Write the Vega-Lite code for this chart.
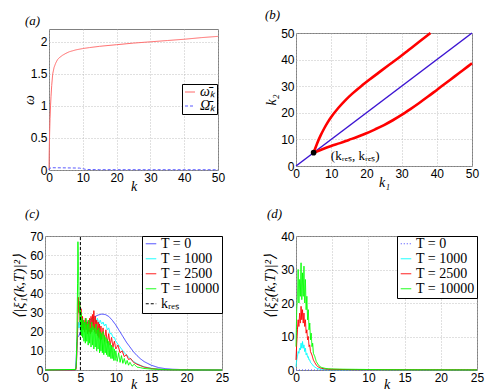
{
"$schema":"https://vega.github.io/schema/vega-lite/v6.json",
"background":"white",
"padding":{"left":10,"top":8,"right":0,"bottom":0},
"columns":2,
"spacing":{"row":66,"column":74},
"center":true,
"bounds":"flush",
"resolve":{"scale":{"color":"independent","strokeDash":"independent","x":"independent","y":"independent"},"legend":{"color":"independent","strokeDash":"independent"}},
"config":{
 "view":{"stroke":"#808080","strokeWidth":1},
 "axis":{"labelFont":"Liberation Sans","labelFontSize":12,"labelColor":"#000","labelPadding":2,"labelFlush":false,"labelOverlap":false,"ticks":false,"domain":false,"grid":true,"gridColor":"#b0b0b0","gridDash":[1,2],"gridWidth":0.8,"titleFont":"Liberation Serif","titleFontStyle":"italic","titleFontWeight":"normal","titleFontSize":14,"titleColor":"#000","titleBaseline":"alphabetic"},
 "legend":{"strokeColor":"#000","fillColor":"white","padding":2,"labelFont":"Liberation Serif","labelFontSize":14,"labelColor":"#000","symbolType":"stroke","symbolSize":110,"symbolStrokeWidth":1,"rowPadding":0,"labelOffset":3,"cornerRadius":0},
 "title":{"font":"Liberation Serif","fontStyle":"italic","fontWeight":"normal","fontSize":13,"color":"#000","baseline":"alphabetic","align":"left"}
},
"datasets":{
 "aw":[{"k":0,"v":0},{"k":0.05,"v":0.25},{"k":0.1,"v":0.4},{"k":0.2,"v":0.6},{"k":0.3,"v":0.8},{"k":0.45,"v":1},{"k":0.6,"v":1.15},{"k":0.8,"v":1.32},{"k":1.1,"v":1.5},{"k":1.5,"v":1.6},{"k":2,"v":1.67},{"k":2.5,"v":1.72},{"k":3,"v":1.75},{"k":4,"v":1.79},{"k":5,"v":1.82},{"k":6,"v":1.845},{"k":7,"v":1.86},{"k":8,"v":1.875},{"k":10,"v":1.895},{"k":12,"v":1.91},{"k":15,"v":1.93},{"k":20,"v":1.955},{"k":25,"v":1.98},{"k":30,"v":2},{"k":35,"v":2.02},{"k":40,"v":2.04},{"k":45,"v":2.065},{"k":50,"v":2.085}],
 "aO":[{"k":0,"v":0},{"k":0.3,"v":0.03},{"k":1,"v":0.035},{"k":5,"v":0.033},{"k":9,"v":0.03},{"k":10,"v":0.02},{"k":11,"v":0.008},{"k":15,"v":0.005},{"k":50,"v":0.004}],
 "bdiag":[{"k1":0,"k2":0},{"k1":50,"k2":50}],
 "bcurve":[
  {"k1":5,"k2":5,"s":"upper"},{"k1":6,"k2":8.5,"s":"upper"},{"k1":7,"k2":11.5,"s":"upper"},{"k1":8,"k2":14.1,"s":"upper"},{"k1":9,"k2":16.4,"s":"upper"},{"k1":10,"k2":18.4,"s":"upper"},{"k1":12,"k2":21.8,"s":"upper"},{"k1":14,"k2":24.7,"s":"upper"},{"k1":16,"k2":27.2,"s":"upper"},{"k1":18.5,"k2":30,"s":"upper"},{"k1":21,"k2":32.6,"s":"upper"},{"k1":23.5,"k2":35.1,"s":"upper"},{"k1":26,"k2":37.6,"s":"upper"},{"k1":29,"k2":40.5,"s":"upper"},{"k1":32,"k2":43.6,"s":"upper"},{"k1":35,"k2":46.7,"s":"upper"},{"k1":38.2,"k2":50,"s":"upper"},
  {"k1":5,"k2":5,"s":"lower"},{"k1":7.5,"k2":6.3,"s":"lower"},{"k1":10,"k2":7.5,"s":"lower"},{"k1":12.5,"k2":8.6,"s":"lower"},{"k1":15,"k2":9.8,"s":"lower"},{"k1":17.5,"k2":11,"s":"lower"},{"k1":20,"k2":12.3,"s":"lower"},{"k1":22.5,"k2":13.8,"s":"lower"},{"k1":25,"k2":15.4,"s":"lower"},{"k1":27.5,"k2":17.2,"s":"lower"},{"k1":30,"k2":19.2,"s":"lower"},{"k1":32.5,"k2":21.4,"s":"lower"},{"k1":35,"k2":23.7,"s":"lower"},{"k1":37.5,"k2":26.1,"s":"lower"},{"k1":40,"k2":28.6,"s":"lower"},{"k1":42.5,"k2":31.1,"s":"lower"},{"k1":45,"k2":33.6,"s":"lower"},{"k1":47.5,"k2":36.1,"s":"lower"},{"k1":50,"k2":38.6,"s":"lower"}],
 "bpt":[{"k1":5,"k2":5}],
 "bnote":[{"k1":9.9,"k2":3.8,"label":"(kᵣₑₛ, kᵣₑₛ)"}],
 "c0":[{"k":0,"v":0},{"k":4.3,"v":0},{"k":4.4,"v":5},{"k":4.5,"v":14},{"k":4.6,"v":17},{"k":4.8,"v":18},{"k":5,"v":20},{"k":5.5,"v":23},{"k":6,"v":25},{"k":6.5,"v":26.5},{"k":7,"v":27.8},{"k":7.5,"v":28.7},{"k":8,"v":29.2},{"k":8.5,"v":29},{"k":9,"v":28},{"k":9.5,"v":26},{"k":10,"v":23.5},{"k":10.5,"v":20.5},{"k":11,"v":17.5},{"k":11.5,"v":14.5},{"k":12,"v":12},{"k":12.5,"v":9.5},{"k":13,"v":7.5},{"k":13.5,"v":5.8},{"k":14,"v":4.4},{"k":15,"v":2.5},{"k":16,"v":1.3},{"k":17,"v":0.7},{"k":18,"v":0.4},{"k":20,"v":0.15},{"k":22,"v":0.05},{"k":25,"v":0}],
 "c1":[{"k":0,"v":0},{"k":4.3,"v":0},{"k":4.4,"v":1},{"k":4.5,"v":10},{"k":4.6,"v":20},{"k":4.7,"v":25},{"k":4.8,"v":22},{"k":5,"v":26},{"k":5.2,"v":22},{"k":5.4,"v":25},{"k":5.6,"v":23},{"k":5.8,"v":26},{"k":6,"v":23},{"k":6.2,"v":26},{"k":6.4,"v":24},{"k":6.6,"v":27},{"k":6.8,"v":24},{"k":7,"v":27},{"k":7.2,"v":25},{"k":7.4,"v":27},{"k":7.6,"v":24},{"k":7.8,"v":26},{"k":8,"v":24},{"k":8.2,"v":25},{"k":8.4,"v":23},{"k":8.6,"v":24},{"k":8.8,"v":21},{"k":9,"v":22},{"k":9.2,"v":19},{"k":9.4,"v":19},{"k":9.6,"v":17},{"k":9.8,"v":17},{"k":10,"v":15},{"k":10.4,"v":13},{"k":10.8,"v":11},{"k":11.2,"v":9},{"k":11.6,"v":7.5},{"k":12,"v":6},{"k":12.5,"v":4.5},{"k":13,"v":3.3},{"k":13.5,"v":2.4},{"k":14,"v":1.7},{"k":15,"v":0.9},{"k":16,"v":0.5},{"k":17,"v":0.25},{"k":18,"v":0.1},{"k":20,"v":0.05},{"k":25,"v":0}],
 "c2":[{"k":0,"v":0},{"k":4.3,"v":0},{"k":4.4,"v":0.5},{"k":4.5,"v":8},{"k":4.6,"v":20},{"k":4.7,"v":38},{"k":4.8,"v":30},{"k":4.9,"v":35},{"k":5,"v":25},{"k":5.1,"v":32},{"k":5.2,"v":22},{"k":5.3,"v":28},{"k":5.4,"v":21},{"k":5.5,"v":26},{"k":5.6,"v":20},{"k":5.7,"v":27},{"k":5.8,"v":21},{"k":5.9,"v":25},{"k":6,"v":19},{"k":6.1,"v":26},{"k":6.2,"v":20},{"k":6.3,"v":27},{"k":6.4,"v":19},{"k":6.5,"v":28},{"k":6.6,"v":20},{"k":6.7,"v":29},{"k":6.8,"v":21},{"k":6.9,"v":31},{"k":7,"v":20},{"k":7.1,"v":28},{"k":7.2,"v":19},{"k":7.3,"v":26},{"k":7.4,"v":18},{"k":7.5,"v":25},{"k":7.6,"v":17},{"k":7.7,"v":24},{"k":7.8,"v":16},{"k":7.9,"v":23},{"k":8,"v":16},{"k":8.2,"v":22},{"k":8.4,"v":15},{"k":8.6,"v":21},{"k":8.8,"v":14},{"k":9,"v":19},{"k":9.2,"v":13},{"k":9.4,"v":17},{"k":9.6,"v":12},{"k":9.8,"v":15},{"k":10,"v":11},{"k":10.3,"v":13},{"k":10.6,"v":9},{"k":10.9,"v":10},{"k":11.2,"v":7},{"k":11.5,"v":8},{"k":11.8,"v":5.5},{"k":12.1,"v":6},{"k":12.5,"v":4},{"k":13,"v":3},{"k":14,"v":1.5},{"k":15,"v":0.8},{"k":16,"v":0.4},{"k":18,"v":0.1},{"k":25,"v":0}],
 "c3":[{"k":0,"v":0},{"k":4.3,"v":0.3},{"k":4.4,"v":2},{"k":4.5,"v":15},{"k":4.6,"v":45},{"k":4.65,"v":67},{"k":4.7,"v":60},{"k":4.75,"v":48},{"k":4.8,"v":40},{"k":4.85,"v":30},{"k":4.9,"v":36},{"k":4.95,"v":25},{"k":5,"v":33},{"k":5.05,"v":20},{"k":5.1,"v":30},{"k":5.15,"v":18},{"k":5.2,"v":27},{"k":5.3,"v":17},{"k":5.4,"v":26},{"k":5.5,"v":15},{"k":5.6,"v":25},{"k":5.7,"v":14},{"k":5.8,"v":27},{"k":5.9,"v":15},{"k":6,"v":24},{"k":6.1,"v":13},{"k":6.2,"v":26},{"k":6.3,"v":14},{"k":6.4,"v":22},{"k":6.5,"v":12},{"k":6.6,"v":25},{"k":6.7,"v":13},{"k":6.8,"v":23},{"k":6.9,"v":11},{"k":7,"v":22},{"k":7.1,"v":12},{"k":7.2,"v":24},{"k":7.3,"v":10},{"k":7.4,"v":21},{"k":7.5,"v":11},{"k":7.6,"v":22},{"k":7.7,"v":9},{"k":7.8,"v":20},{"k":7.9,"v":10},{"k":8,"v":19},{"k":8.1,"v":9},{"k":8.2,"v":20},{"k":8.3,"v":8},{"k":8.4,"v":18},{"k":8.5,"v":9},{"k":8.6,"v":17},{"k":8.7,"v":8},{"k":8.8,"v":16},{"k":8.9,"v":7},{"k":9,"v":15},{"k":9.1,"v":7},{"k":9.2,"v":14},{"k":9.3,"v":6},{"k":9.4,"v":13},{"k":9.5,"v":6},{"k":9.6,"v":12},{"k":9.7,"v":5},{"k":9.8,"v":11},{"k":9.9,"v":5},{"k":10,"v":10},{"k":10.2,"v":4.5},{"k":10.4,"v":9},{"k":10.6,"v":4},{"k":10.8,"v":7.5},{"k":11,"v":3.5},{"k":11.2,"v":6},{"k":11.4,"v":3},{"k":11.6,"v":5},{"k":11.8,"v":2.5},{"k":12,"v":4},{"k":12.3,"v":2},{"k":12.6,"v":3},{"k":13,"v":1.5},{"k":13.5,"v":1.2},{"k":14,"v":0.8},{"k":15,"v":0.5},{"k":16,"v":0.3},{"k":18,"v":0.1},{"k":20,"v":0.05},{"k":25,"v":0}],
 "ckres":[{"k":5,"v":0,"v2":70}],
 "d0":[{"k":0,"v":0},{"k":25,"v":0}],
 "d1":[{"k":0,"v":1},{"k":0.1,"v":3},{"k":0.2,"v":4},{"k":0.3,"v":5.5},{"k":0.4,"v":5},{"k":0.5,"v":6.5},{"k":0.6,"v":6},{"k":0.7,"v":8},{"k":0.8,"v":6.5},{"k":0.9,"v":8.5},{"k":1,"v":6.5},{"k":1.1,"v":7.5},{"k":1.2,"v":5.5},{"k":1.3,"v":6.5},{"k":1.4,"v":4.5},{"k":1.5,"v":5},{"k":1.6,"v":3.8},{"k":1.7,"v":4},{"k":1.8,"v":3},{"k":1.9,"v":3},{"k":2,"v":2.3},{"k":2.2,"v":1.8},{"k":2.4,"v":1.2},{"k":2.6,"v":0.9},{"k":2.8,"v":0.6},{"k":3,"v":0.4},{"k":3.5,"v":0.2},{"k":4,"v":0.1},{"k":25,"v":0.05}],
 "d2":[{"k":0,"v":3},{"k":0.1,"v":8},{"k":0.2,"v":12},{"k":0.3,"v":15},{"k":0.4,"v":13},{"k":0.5,"v":17},{"k":0.6,"v":14},{"k":0.7,"v":19},{"k":0.8,"v":15},{"k":0.9,"v":18},{"k":1,"v":14},{"k":1.1,"v":17},{"k":1.2,"v":13},{"k":1.3,"v":15},{"k":1.4,"v":11},{"k":1.5,"v":12},{"k":1.6,"v":9},{"k":1.7,"v":10},{"k":1.8,"v":7},{"k":1.9,"v":7.5},{"k":2,"v":5.5},{"k":2.2,"v":4.5},{"k":2.4,"v":3},{"k":2.6,"v":2.2},{"k":2.8,"v":1.5},{"k":3,"v":1},{"k":3.5,"v":0.5},{"k":4,"v":0.3},{"k":5,"v":0.2},{"k":8,"v":0.1},{"k":25,"v":0.05}],
 "d3":[{"k":0,"v":7},{"k":0.1,"v":18},{"k":0.2,"v":22},{"k":0.3,"v":30},{"k":0.4,"v":20},{"k":0.5,"v":27},{"k":0.6,"v":22},{"k":0.7,"v":32},{"k":0.8,"v":21},{"k":0.9,"v":29},{"k":1,"v":22},{"k":1.1,"v":31},{"k":1.2,"v":20},{"k":1.3,"v":27},{"k":1.4,"v":18},{"k":1.5,"v":22},{"k":1.6,"v":15},{"k":1.7,"v":18},{"k":1.8,"v":12},{"k":1.9,"v":14},{"k":2,"v":9},{"k":2.1,"v":11},{"k":2.2,"v":7},{"k":2.3,"v":8},{"k":2.4,"v":5},{"k":2.6,"v":4},{"k":2.8,"v":2.5},{"k":3,"v":1.8},{"k":3.2,"v":1.2},{"k":3.5,"v":0.8},{"k":4,"v":0.5},{"k":4.5,"v":0.35},{"k":5,"v":0.3},{"k":6,"v":0.25},{"k":8,"v":0.2},{"k":10,"v":0.15},{"k":12,"v":0.1},{"k":15,"v":0.08},{"k":20,"v":0.05},{"k":25,"v":0.03}]
},
"concat":[
 {
  "width":169,"height":141,
  "title":{"text":"(a)","anchor":"start","frame":"group","dx":-24,"offset":1},
  "encoding":{
   "x":{"field":"k","type":"quantitative","scale":{"domain":[0,50],"nice":false},"axis":{"values":[0,10,20,30,40,50],"title":"k","titleY":20}},
   "y":{"field":"v","type":"quantitative","scale":{"domain":[0,2.2],"nice":false},"axis":{"values":[0,0.5,1,1.5,2],"format":"~g","title":"ω","titleX":-16}}
  },
  "layer":[
   {"data":{"name":"aw"},"mark":{"type":"line","strokeWidth":1},
    "encoding":{
     "color":{"datum":"ω̄ₖ","type":"nominal","scale":{"domain":["ω̄ₖ","Ω̄ₖ"],"range":["#ff6b6b","#5a5aff"]},"legend":{"orient":"none","legendX":133,"legendY":55,"title":null,"labelFontStyle":"italic","labelFontSize":14,"rowPadding":0,"symbolSize":100,"padding":1}},
     "strokeDash":{"datum":"ω̄ₖ","type":"nominal","scale":{"domain":["ω̄ₖ","Ω̄ₖ"],"range":[[1,0],[3,2]]},"legend":{"orient":"none","legendX":133,"legendY":55,"title":null,"labelFontStyle":"italic","labelFontSize":14,"rowPadding":0,"symbolSize":100,"padding":1}}}},
   {"data":{"name":"aO"},"mark":{"type":"line","strokeWidth":1},
    "encoding":{"color":{"datum":"Ω̄ₖ","type":"nominal"},"strokeDash":{"datum":"Ω̄ₖ","type":"nominal"}}}
  ]
 },
 {
  "width":176,"height":133,
  "title":{"text":"(b)","anchor":"start","frame":"group","dx":-31,"offset":5},
  "encoding":{
   "x":{"field":"k1","type":"quantitative","scale":{"domain":[0,50],"nice":false},"axis":{"values":[0,10,20,30,40,50],"title":"k₁","titleY":20}},
   "y":{"field":"k2","type":"quantitative","scale":{"domain":[0,50],"nice":false},"axis":{"values":[0,10,20,30,40,50],"title":"k₂","titleX":-21}}
  },
  "layer":[
   {"data":{"name":"bdiag"},"mark":{"type":"line","color":"#3c14d2","strokeWidth":1.5},"encoding":{}},
   {"data":{"name":"bcurve"},"mark":{"type":"line","color":"#ff0000","strokeWidth":2.6,"interpolate":"monotone"},"encoding":{"detail":{"field":"s","type":"nominal"}}},
   {"data":{"name":"bpt"},"mark":{"type":"point","filled":true,"color":"#000","opacity":1,"size":32},"encoding":{}},
   {"data":{"name":"bnote"},"mark":{"type":"text","align":"left","baseline":"middle","font":"Liberation Serif","fontSize":13,"color":"#000"},"encoding":{"text":{"field":"label","type":"nominal"}}}
  ]
 },
 {
  "width":177,"height":134,
  "title":{"text":"(c)","anchor":"start","frame":"group","dx":-20,"offset":9},
  "encoding":{
   "x":{"field":"k","type":"quantitative","scale":{"domain":[0,25],"nice":false},"axis":{"values":[0,5,10,15,20,25],"title":"k","titleY":18}},
   "y":{"field":"v","type":"quantitative","scale":{"domain":[0,70],"nice":false},"axis":{"values":[0,10,20,30,40,50,60,70],"title":"⟨|ξ̂₁(k,T)|²⟩","titleX":-22,"titleY":50,"titleFontSize":15}}
  },
  "layer":[
   {"data":{"name":"c0"},"mark":{"type":"line","strokeWidth":1},
    "encoding":{
     "color":{"datum":"T = 0","type":"nominal","scale":{"domain":["T = 0","T = 1000","T = 2500","T = 10000","kᵣₑₛ"],"range":["#4040ff","#00ffff","#ff0000","#00ff00","#000000"]},"legend":{"orient":"top-right","offset":0,"title":null,"clipHeight":11.5}},
     "strokeDash":{"datum":"T = 0","type":"nominal","scale":{"domain":["T = 0","T = 1000","T = 2500","T = 10000","kᵣₑₛ"],"range":[[1,0],[1,0],[1,0],[1,0],[3,2]]},"legend":{"orient":"top-right","offset":0,"title":null,"clipHeight":11.5}}}},
   {"data":{"name":"c1"},"mark":{"type":"line","strokeWidth":1},"encoding":{"color":{"datum":"T = 1000","type":"nominal"},"strokeDash":{"datum":"T = 1000","type":"nominal"}}},
   {"data":{"name":"c2"},"mark":{"type":"line","strokeWidth":1},"encoding":{"color":{"datum":"T = 2500","type":"nominal"},"strokeDash":{"datum":"T = 2500","type":"nominal"}}},
   {"data":{"name":"c3"},"mark":{"type":"line","strokeWidth":1},"encoding":{"color":{"datum":"T = 10000","type":"nominal"},"strokeDash":{"datum":"T = 10000","type":"nominal"}}},
   {"data":{"name":"ckres"},"mark":{"type":"rule","strokeWidth":1},"encoding":{"y2":{"field":"v2"},"color":{"datum":"kᵣₑₛ","type":"nominal"},"strokeDash":{"datum":"kᵣₑₛ","type":"nominal"}}}
  ]
 },
 {
  "width":181,"height":134,
  "title":{"text":"(d)","anchor":"start","frame":"group","dx":-29,"offset":9},
  "encoding":{
   "x":{"field":"k","type":"quantitative","scale":{"domain":[0,25],"nice":false},"axis":{"values":[0,5,10,15,20,25],"title":"k","titleY":18}},
   "y":{"field":"v","type":"quantitative","scale":{"domain":[0,40],"nice":false},"axis":{"values":[0,10,20,30,40],"title":"⟨|ξ̂₂(k,T)|²⟩","titleX":-22,"titleY":50,"titleFontSize":15}}
  },
  "layer":[
   {"data":{"name":"d0"},"mark":{"type":"line","strokeWidth":1},
    "encoding":{
     "color":{"datum":"T = 0","type":"nominal","scale":{"domain":["T = 0","T = 1000","T = 2500","T = 10000"],"range":["#4040ff","#00ffff","#ff0000","#00ff00"]},"legend":{"orient":"top-right","offset":0,"title":null,"clipHeight":11.5}},
     "strokeDash":{"datum":"T = 0","type":"nominal","scale":{"domain":["T = 0","T = 1000","T = 2500","T = 10000"],"range":[[1,2],[1,0],[1,0],[1,0]]},"legend":{"orient":"top-right","offset":0,"title":null,"clipHeight":11.5}}}},
   {"data":{"name":"d1"},"mark":{"type":"line","strokeWidth":1},"encoding":{"color":{"datum":"T = 1000","type":"nominal"},"strokeDash":{"datum":"T = 1000","type":"nominal"}}},
   {"data":{"name":"d2"},"mark":{"type":"line","strokeWidth":1},"encoding":{"color":{"datum":"T = 2500","type":"nominal"},"strokeDash":{"datum":"T = 2500","type":"nominal"}}},
   {"data":{"name":"d3"},"mark":{"type":"line","strokeWidth":1},"encoding":{"color":{"datum":"T = 10000","type":"nominal"},"strokeDash":{"datum":"T = 10000","type":"nominal"}}}
  ]
 }
]
}
